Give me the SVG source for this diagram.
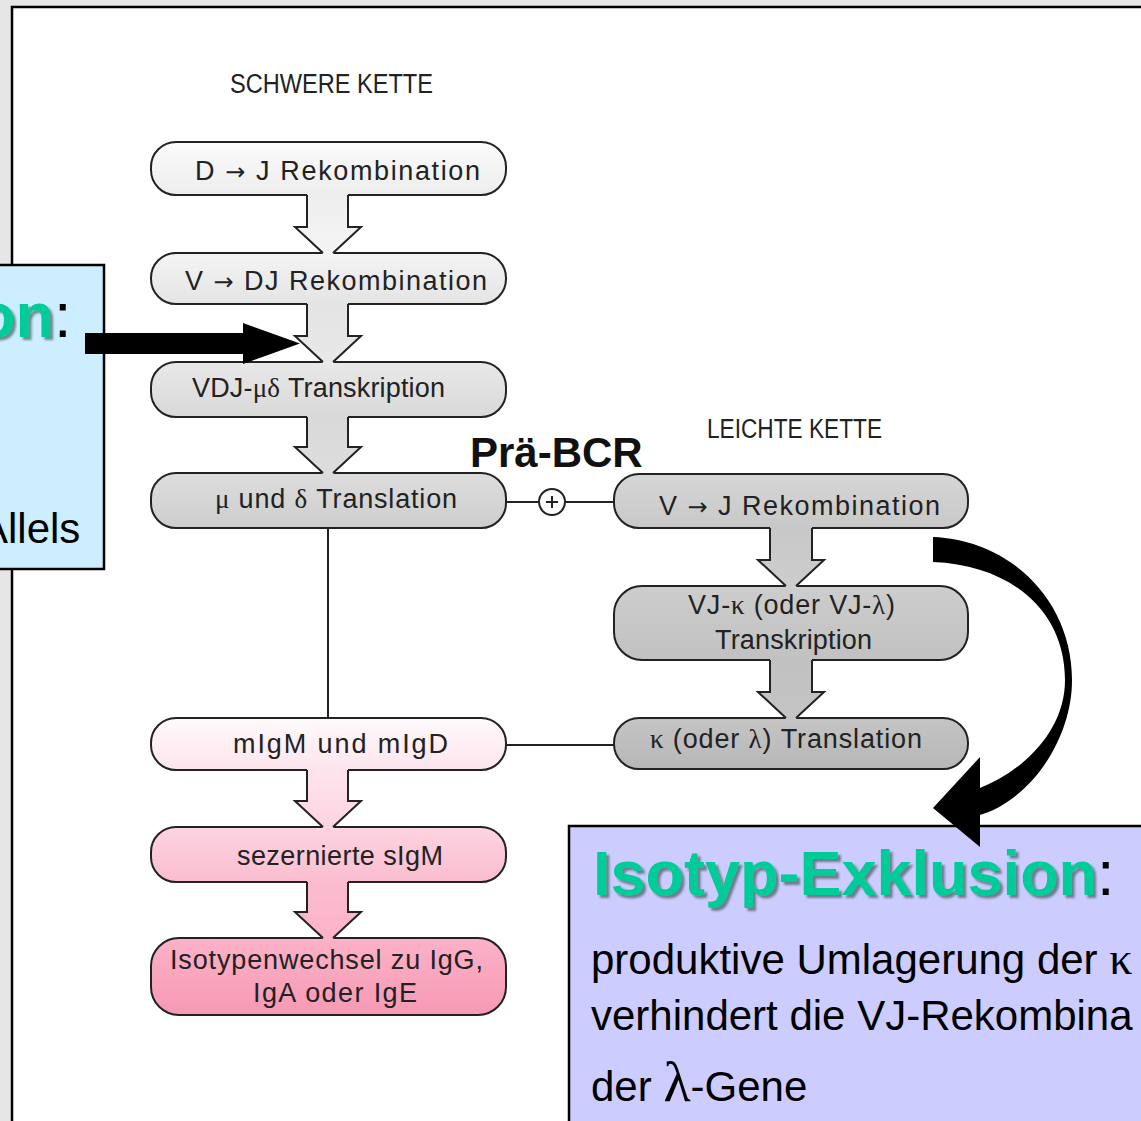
<svg xmlns="http://www.w3.org/2000/svg" width="1141" height="1121" viewBox="0 0 1141 1121">
<defs>
<filter id="tsh" x="-10%" y="-20%" width="130%" height="150%"><feDropShadow dx="3" dy="3" stdDeviation="1" flood-color="#2f4a44" flood-opacity="0.6"/></filter>
<linearGradient id="g1" x1="0" y1="0" x2="0" y2="1"><stop offset="0" stop-color="#fbfbfb"/><stop offset="1" stop-color="#ededed"/></linearGradient>
<linearGradient id="g2" x1="0" y1="0" x2="0" y2="1"><stop offset="0" stop-color="#f4f4f4"/><stop offset="1" stop-color="#e4e4e4"/></linearGradient>
<linearGradient id="g3" x1="0" y1="0" x2="0" y2="1"><stop offset="0" stop-color="#e8e8e8"/><stop offset="1" stop-color="#d9d9d9"/></linearGradient>
<linearGradient id="g4" x1="0" y1="0" x2="0" y2="1"><stop offset="0" stop-color="#dddddd"/><stop offset="1" stop-color="#cdcdcd"/></linearGradient>
<linearGradient id="gr1" x1="0" y1="0" x2="0" y2="1"><stop offset="0" stop-color="#d6d6d6"/><stop offset="1" stop-color="#c8c8c8"/></linearGradient>
<linearGradient id="gr2" x1="0" y1="0" x2="0" y2="1"><stop offset="0" stop-color="#cdcdcd"/><stop offset="1" stop-color="#c1c1c1"/></linearGradient>
<linearGradient id="gr3" x1="0" y1="0" x2="0" y2="1"><stop offset="0" stop-color="#c4c4c4"/><stop offset="1" stop-color="#b7b7b7"/></linearGradient>
<linearGradient id="gp1" x1="0" y1="0" x2="0" y2="1"><stop offset="0" stop-color="#fffafc"/><stop offset="1" stop-color="#fde5ed"/></linearGradient>
<linearGradient id="gp2" x1="0" y1="0" x2="0" y2="1"><stop offset="0" stop-color="#fdd4e1"/><stop offset="1" stop-color="#fbbdd0"/></linearGradient>
<linearGradient id="gp3" x1="0" y1="0" x2="0" y2="1"><stop offset="0" stop-color="#fcb2c8"/><stop offset="1" stop-color="#f699b4"/></linearGradient>
<linearGradient id="a1" x1="0" y1="0" x2="0" y2="1"><stop offset="0" stop-color="#eeeeee"/><stop offset="1" stop-color="#f4f4f4"/></linearGradient>
<linearGradient id="a2" x1="0" y1="0" x2="0" y2="1"><stop offset="0" stop-color="#e4e4e4"/><stop offset="1" stop-color="#e8e8e8"/></linearGradient>
<linearGradient id="a3" x1="0" y1="0" x2="0" y2="1"><stop offset="0" stop-color="#d9d9d9"/><stop offset="1" stop-color="#dddddd"/></linearGradient>
<linearGradient id="ar1" x1="0" y1="0" x2="0" y2="1"><stop offset="0" stop-color="#c8c8c8"/><stop offset="1" stop-color="#cdcdcd"/></linearGradient>
<linearGradient id="ar2" x1="0" y1="0" x2="0" y2="1"><stop offset="0" stop-color="#c1c1c1"/><stop offset="1" stop-color="#c4c4c4"/></linearGradient>
<linearGradient id="ap1" x1="0" y1="0" x2="0" y2="1"><stop offset="0" stop-color="#fde5ed"/><stop offset="1" stop-color="#fdd4e1"/></linearGradient>
<linearGradient id="ap2" x1="0" y1="0" x2="0" y2="1"><stop offset="0" stop-color="#fbbdd0"/><stop offset="1" stop-color="#fcb2c8"/></linearGradient>
</defs>
<style>
.node{stroke:#222;stroke-width:2}
.nt{font-family:"Liberation Sans",Arial,sans-serif;font-size:27px;fill:#222}
.gr{font-family:"Liberation Serif","Times New Roman",serif}
.ar{font-family:"DejaVu Sans",sans-serif;font-size:24px}
.lbl{font-family:"Liberation Sans",Arial,sans-serif;font-size:27px;fill:#222}
.edge{fill:none;stroke:#222;stroke-width:2}
.af{stroke:none}
.box{stroke:#000;stroke-width:2.5}
.title{font-family:"Liberation Sans",Arial,sans-serif;font-weight:bold;font-size:63px;fill:#00cc99;filter:url(#tsh)}
.colon{font-family:"Liberation Sans",Arial,sans-serif;font-size:63px;fill:#000}
.body{font-family:"Liberation Sans",Arial,sans-serif;font-size:42px;fill:#000}
</style>
<rect x="0" y="0" width="1141" height="1121" fill="#e6e6e6"/>
<rect x="12" y="7" width="1200" height="1200" fill="#ffffff" stroke="#000" stroke-width="2.5"/>
<text class="lbl" x="230" y="93" textLength="203" lengthAdjust="spacingAndGlyphs">SCHWERE KETTE</text>
<text class="lbl" x="707" y="438" textLength="175" lengthAdjust="spacingAndGlyphs">LEICHTE KETTE</text>
<text x="470" y="467" font-family="Liberation Sans, Arial, sans-serif" font-weight="bold" font-size="42" fill="#111">Prä-BCR</text>

<g id="n1"><rect class="node" x="151" y="142" width="355" height="53" rx="25" fill="url(#g1)"/><text class="nt" x="195" y="180" textLength="285">D <tspan class="ar">→</tspan> J Rekombination</text></g>
<g id="n2"><rect class="node" x="151" y="253" width="355" height="51" rx="25" fill="url(#g2)"/><text class="nt" x="185" y="290" textLength="302">V <tspan class="ar">→</tspan> DJ Rekombination</text></g>
<g id="n3"><rect class="node" x="151" y="362" width="355" height="55" rx="25" fill="url(#g3)"/><text class="nt" x="192" y="397" textLength="253">VDJ-<tspan class="gr">μδ</tspan> Transkription</text></g>
<g id="n4"><rect class="node" x="151" y="473" width="355" height="55" rx="25" fill="url(#g4)"/><text class="nt" x="215" y="508" textLength="242"><tspan class="gr">μ</tspan> und <tspan class="gr">δ</tspan> Translation</text></g>
<g id="n5"><rect class="node" x="151" y="718" width="355" height="52" rx="25" fill="url(#gp1)"/><text class="nt" x="233" y="753" textLength="215">mIgM und mIgD</text></g>
<g id="n6"><rect class="node" x="151" y="827" width="355" height="55" rx="25" fill="url(#gp2)"/><text class="nt" x="237" y="865" textLength="206">sezernierte sIgM</text></g>
<g id="n7"><rect class="node" x="151" y="938" width="355" height="77" rx="28" fill="url(#gp3)"/><text class="nt" x="170" y="969" textLength="313">Isotypenwechsel zu IgG,</text><text class="nt" x="253" y="1002" textLength="164">IgA oder IgE</text></g>
<g id="r1"><rect class="node" x="614" y="474" width="354" height="54" rx="25" fill="url(#gr1)"/><text class="nt" x="659" y="515" textLength="281">V <tspan class="ar">→</tspan> J Rekombination</text></g>
<g id="r2"><rect class="node" x="614" y="586" width="354" height="74" rx="28" fill="url(#gr2)"/><text class="nt" x="688" y="614" textLength="207">VJ-<tspan class="gr">κ</tspan> (oder VJ-<tspan class="gr">λ</tspan>)</text><text class="nt" x="715" y="649" textLength="157">Transkription</text></g>
<g id="r3"><rect class="node" x="614" y="718" width="354" height="51" rx="25" fill="url(#gr3)"/><text class="nt" x="650" y="748" textLength="272"><tspan class="gr">κ</tspan> (oder <tspan class="gr">λ</tspan>) Translation</text></g>

<g id="allel-box">
<rect class="box" x="-10" y="265" width="114" height="304" fill="#cceeff"/>
<text x="-23" y="337"><tspan class="title">on</tspan><tspan class="colon">:</tspan></text>
<text class="body" x="-20" y="543">Allels</text>
</g>

<g id="isotyp-box">
<rect class="box" x="569" y="826" width="620" height="330" fill="#ccccff"/>
<text x="593" y="895"><tspan class="title">Isotyp-Exklusion</tspan><tspan class="colon">:</tspan></text>
<text class="body" x="591" y="974">produktive Umlagerung der <tspan class="gr" font-size="46">κ</tspan></text>
<text class="body" x="591" y="1030">verhindert die VJ-Rekombina</text>
<text class="body" x="591" y="1101">der <tspan class="gr" font-size="56">λ</tspan>-Gene</text>
</g>

<g id="connectors">
<path class="af" fill="url(#a1)" d="M307,193 L307,227 L295,227 L323,254 L333,254 L361,227 L348,227 L348,193 Z"/>
<path class="edge" d="M307,195 L307,227 L295,227 L323,253 M333,253 L361,227 L348,227 L348,195"/>
<path class="af" fill="url(#a2)" d="M307,302 L307,336 L295,336 L323,363 L333,363 L361,336 L348,336 L348,302 Z"/>
<path class="edge" d="M307,304 L307,336 L295,336 L323,362 M333,362 L361,336 L348,336 L348,304"/>
<path class="af" fill="url(#a3)" d="M307,415 L307,447 L295,447 L323,474 L333,474 L361,447 L348,447 L348,415 Z"/>
<path class="edge" d="M307,417 L307,447 L295,447 L323,473 M333,473 L361,447 L348,447 L348,417"/>
<path class="af" fill="url(#ap1)" d="M307,768 L307,801 L295,801 L323,828 L333,828 L361,801 L348,801 L348,768 Z"/>
<path class="edge" d="M307,770 L307,801 L295,801 L323,827 M333,827 L361,801 L348,801 L348,770"/>
<path class="af" fill="url(#ap2)" d="M307,880 L307,912 L295,912 L323,939 L333,939 L361,912 L348,912 L348,880 Z"/>
<path class="edge" d="M307,882 L307,912 L295,912 L323,938 M333,938 L361,912 L348,912 L348,882"/>
<path class="af" fill="url(#ar1)" d="M770,526 L770,560 L758,560 L786,587 L796,587 L824,560 L812,560 L812,526 Z"/>
<path class="edge" d="M770,528 L770,560 L758,560 L786,586 M796,586 L824,560 L812,560 L812,528"/>
<path class="af" fill="url(#ar2)" d="M770,658 L770,692 L758,692 L786,719 L796,719 L824,692 L812,692 L812,658 Z"/>
<path class="edge" d="M770,660 L770,692 L758,692 L786,718 M796,718 L824,692 L812,692 L812,660"/>
<line class="edge" x1="328" y1="528" x2="328" y2="718"/>
<line class="edge" x1="506" y1="502" x2="539" y2="502"/>
<line class="edge" x1="565" y1="502" x2="614" y2="502"/>
<circle cx="552" cy="502" r="13" fill="#fff" stroke="#222" stroke-width="2"/>
<path class="edge" d="M546,502 L558,502 M552,496 L552,508"/>
<line class="edge" x1="506" y1="745" x2="614" y2="745"/>
<path fill="#000" d="M85,333 L243,333 L243,323 L300,343.5 L243,364 L243,354 L85,354 Z"/>
<path fill="#000" d="M933,537 C1010,540 1072,600 1072,680 C1072,740 1030,800 980,815 L980,847 L933,808 L980,757 L980,788 C1025,770 1065,730 1065,680 C1065,610 1010,565 933,562 Z"/>
</g>
</svg>
